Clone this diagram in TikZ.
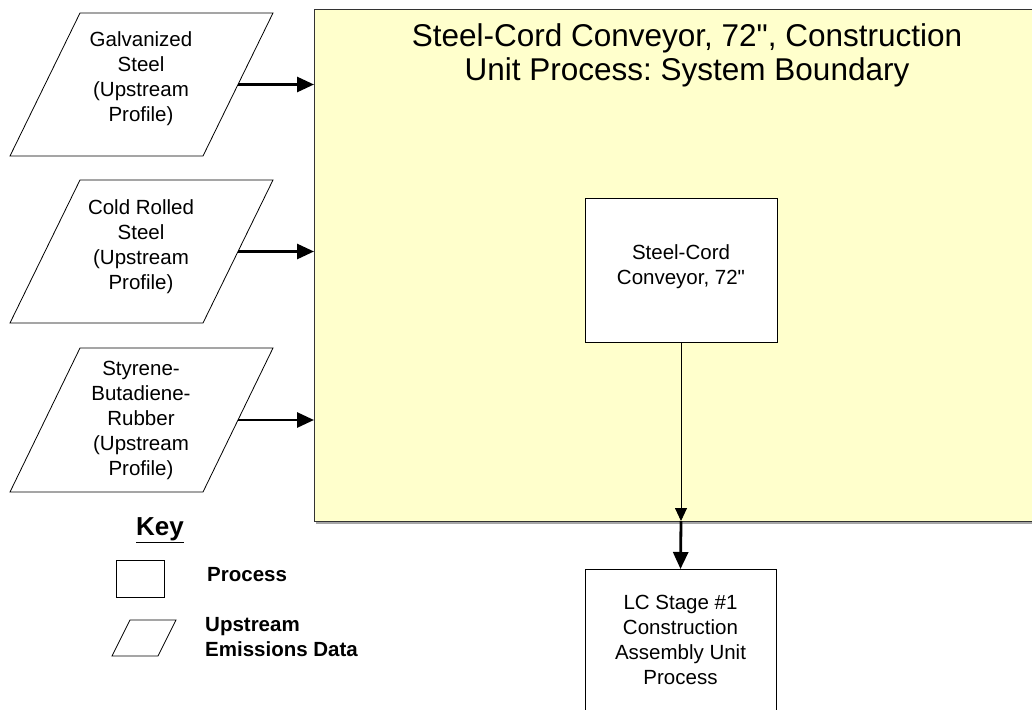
\documentclass[tikz,border=0pt]{standalone}
\usepackage{fontspec}
\setmainfont{Liberation Sans}[Ligatures=TeXOff]
\usetikzlibrary{arrows.meta}
\definecolor{bndfill}{HTML}{FFFFCC}
\frenchspacing
\begin{document}
\begin{tikzpicture}[x=1pt,y=-1pt,
  body/.style={font=\fontsize{20.5}{25}\selectfont, align=center, inner sep=0pt},
  shp/.style={draw=black, line width=0.8pt, fill=white},
  procbox/.style={draw=black, line width=0.8pt, fill=white, inner sep=0pt},
  bigarrow/.style={line width=2.8pt, -{Triangle[length=17pt,width=15pt]}},
  thinarrow/.style={line width=0.9pt, -{Triangle[length=13pt,width=12pt]}}]
\useasboundingbox (0,0) rectangle (1032,709);
\clip (0,0) rectangle (1032,709);
\fill[white] (0,0) rectangle (1032,709);
% system boundary
\fill[black!35] (316,11) rectangle (1045,523.5);
\node[draw=black!80, line width=1pt, fill=bndfill, minimum width=731pt, minimum height=512pt, inner sep=0pt, anchor=north west] (bnd) at (314,9) {};
\node[font=\fontsize{31.5}{34}\selectfont, align=center, inner sep=0pt] (title) at (687,55) {Steel-Cord Conveyor, 72", Construction\\Unit Process: System Boundary};
% upstream parallelograms
\draw[shp] (80,13) -- (273,13) -- (203,156) -- (10,156) -- cycle;
\coordinate (e1) at (238,84.5);
\node[body] (g1) at (141,79) {Galvanized\\Steel\\(Upstream\\Profile)};
\draw[shp] (80,180) -- (273,180) -- (203,323) -- (10,323) -- cycle;
\coordinate (e2) at (238,251.5);
\node[body] (g2) at (141,247) {Cold Rolled\\Steel\\(Upstream\\Profile)};
\draw[shp] (80,348) -- (273,348) -- (203,492) -- (10,492) -- cycle;
\coordinate (e3) at (238,420);
\node[body] (g3) at (141,420) {Styrene-\\Butadiene-\\Rubber\\(Upstream\\Profile)};
\coordinate (b1) at (314,84.5);
\coordinate (b2) at (314,251.5);
\coordinate (b3) at (314,420);
\draw[bigarrow] (e1) -- (b1);
\draw[bigarrow] (e2) -- (b2);
\draw[bigarrow] (e3) -- (b3);
% process boxes
\node[procbox, minimum width=192pt, minimum height=144pt] (proc) at (681,270) {};
\node[body] (proct) at (681,267) {Steel-Cord\\Conveyor, 72"};
\node[procbox, minimum width=191pt, minimum height=160pt, anchor=north] (lc) at (680.5,569) {};
\node[body] (lct) at (680.5,640) {LC Stage \#1\\Construction\\Assembly Unit\\Process};
\coordinate (bb) at (681,521);
\draw[thinarrow] (proc.south) -- (bb);
\draw[bigarrow] (bb) -- (lc.north);
% key
\node[font=\fontsize{26}{30}\selectfont\bfseries, inner sep=0pt] (key) at (160,530) {\underline{Key}};
\node[procbox, minimum width=48pt, minimum height=37pt] (kp) at (140,578.5) {};
\node[font=\fontsize{20.5}{25}\selectfont\bfseries, inner sep=0pt, anchor=west] (kpt) at (207,575) {Process};
\draw[shp] (130,620) -- (176,620) -- (158,656) -- (112,656) -- cycle;
\node[font=\fontsize{20.5}{25}\selectfont\bfseries, align=left, inner sep=0pt, anchor=west] (kut) at (205,637.5) {Upstream\\Emissions Data};
\end{tikzpicture}
\end{document}
